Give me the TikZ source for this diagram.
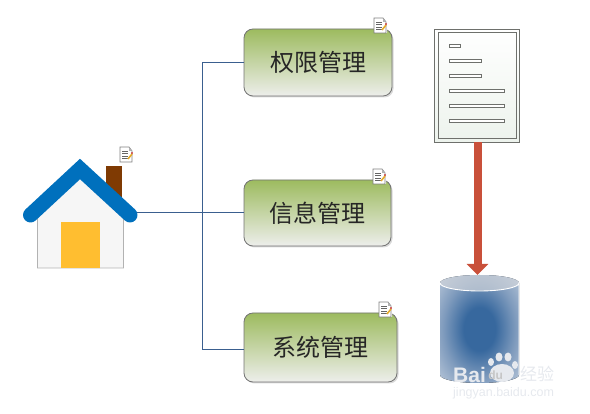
\documentclass[tikz,border=0pt]{standalone}
\usepackage{fontspec}
\setmainfont{Noto Sans CJK SC}
\newfontfamily\latinfont{Liberation Sans}
\usetikzlibrary{positioning, arrows.meta, shadows, calc}
\definecolor{roofblue}{HTML}{0070BD}
\definecolor{chimneybrown}{HTML}{7F3A03}
\definecolor{doorgold}{HTML}{FFBE30}
\definecolor{linkblue}{HTML}{3A5F8F}
\definecolor{boxgreen}{HTML}{9DBB5F}
\definecolor{boxpale}{HTML}{EDEEEB}
\definecolor{arrowred}{HTML}{C9503A}
\definecolor{docline}{HTML}{6E706C}
\definecolor{dbblue}{HTML}{37689E}
\definecolor{dbmid}{HTML}{7F9BBD}
\definecolor{dbedge}{HTML}{B5C4D7}
\definecolor{dbpale}{HTML}{E4E9F0}
\definecolor{markgray}{HTML}{E6E9EE}
\pgfdeclareradialshading{dbglow}{\pgfpoint{0bp}{0bp}}{color(0bp)=(dbblue); color(10bp)=(dbblue); color(23bp)=(dbmid); color(35bp)=(dbedge); color(50bp)=(dbpale); color(100bp)=(dbpale)}
\begin{document}
\begin{tikzpicture}[x=1pt, y=-1pt,
			modbox/.style={draw=gray!90!black, line width=0.8pt, rounded corners=9pt, top color=boxgreen, bottom color=boxpale, font=\fontsize{24}{24}\selectfont, text=black!85, align=center, inner sep=0pt, outer sep=0pt, drop shadow={shadow xshift=1.5pt, shadow yshift=-1.5pt, opacity=0.15, fill=black}},
			link/.style={draw=linkblue, line width=1pt},
			docbar/.style={draw=docline, line width=0.9pt, fill=white, minimum height=3.2pt, inner sep=0pt, outer sep=0pt, anchor=west},
			wmark/.style={text=markgray, inner sep=0pt, anchor=west},
			noteicon/.pic={
				\fill[white] (0,0) -- (9,0) -- (13,4) -- (13,15) -- (0,15) -- cycle;
				\draw[gray, line width=0.7pt] (0,0) -- (9,0) -- (12,4) -- (12,15) -- (0,15) -- cycle;
				\fill[gray!60] (9,0) -- (9,4) -- (12,4) -- cycle;
				\foreach \y in {4,6.5,9,11.5} \draw[gray!80!black, line width=0.5pt] (2,\y) -- (8,\y);
				\draw[doorgold!90!black, line width=1.6pt] (8,12) -- (12,7);
				\fill[red!80!black] (12,6) circle (0.8pt);
			}]
	\useasboundingbox (0,0) rectangle (590,414);
	% house
	\fill[chimneybrown] (106,166) rectangle (122,205);
	\filldraw[fill=gray!7, draw=gray!60, line width=0.8pt] (37.5,205) -- (80,170) -- (123.5,205) -- (123.5,268) -- (37.5,268) -- cycle;
	\node[fill=doorgold, minimum width=39pt, minimum height=46pt, inner sep=0pt, outer sep=0pt, anchor=north west] (door) at (61,222) {};
	\draw[roofblue, line width=15pt, line cap=round, line join=miter] (30.5,215) -- (80,169) -- (130,215);
	\pic at (120,147) {noteicon};
	% modules
	\node[modbox, minimum width=148pt, minimum height=67pt] (perm) at (318,62.5) {权限管理};
	\node[modbox, minimum width=147pt, minimum height=66pt, below=84pt of perm.south west, anchor=north west] (info) {信息管理};
	\node[modbox, minimum width=153pt, minimum height=69pt, below=67pt of info.south west, anchor=north west] (sys) {系统管理};
	\pic at (374,18) {noteicon};
	\pic at (373,169) {noteicon};
	\pic at (379,302) {noteicon};
	% links
	\coordinate (house) at ([xshift=-107pt]info.west);
	\coordinate (trunk) at ([xshift=-42pt]info.west);
	\draw[link] (house) -- (info.west);
	\draw[link] (perm.west) -| (trunk);
	\draw[link] ([yshift=-2.5pt]sys.west) -| (trunk);
	% document
	\node[draw=docline, line width=1pt, minimum width=85pt, minimum height=113pt, inner sep=0pt, outer sep=0pt, anchor=north west, top color=white, bottom color=green!20!gray!12] (doc) at (434.5,29.5) {};
	\node[draw=docline, line width=0.9pt, minimum width=77.5pt, minimum height=105.5pt, inner sep=0pt, outer sep=0pt, anchor=north west] (docin) at (438.5,32.5) {};
	\foreach \y/\w in {45.7/11, 61.3/32, 76.3/32, 91.3/55, 106/55, 121/55}
		\node[docbar, minimum width=\w pt] at (449.5,\y) {};
	% database
	\fill[shading=dbglow] (440,283) -- (440,375) arc[start angle=180, end angle=0, x radius=39.5, y radius=8] -- (519,283) arc[start angle=0, end angle=-180, x radius=39.5, y radius=8] -- cycle;
	\fill[gray!20!dbpale, opacity=0.7] (479.5,283) ellipse[x radius=39.5, y radius=8];
	\draw[white, line width=0.9pt] (440,283) arc[start angle=180, end angle=0, x radius=39.5, y radius=8] -- (519,375);
	\coordinate (dbtop) at (477.5,275);
	% arrow
	\draw[arrowred, line width=8pt, -{Triangle[width=21pt, length=11pt]}] (doc.south -| dbtop) -- (dbtop);
	% watermark
	\fill[markgray] (491,362) ellipse[x radius=3, y radius=4] (499,357) ellipse[x radius=3.5, y radius=4.5] (508,357) ellipse[x radius=3.5, y radius=4.5] (515,365) ellipse[x radius=3, y radius=4] (502,373) ellipse[x radius=12, y radius=9];
	\node[wmark, font=\latinfont\bfseries\fontsize{21}{21}\selectfont] (wmbai) at (453,375) {Bai};
	\node[text=gray!45, inner sep=0pt, font=\latinfont\bfseries\fontsize{12}{12}\selectfont, right=2pt of wmbai] (wmdu) {du};
	\node[wmark, font=\fontsize{17}{17}\selectfont] (wmjy) at (520,374) {经验};
	\node[wmark, font=\latinfont\fontsize{12.5}{12.5}\selectfont] (wmurl) at (453,393) {jingyan.baidu.com};
\end{tikzpicture}
\end{document}
